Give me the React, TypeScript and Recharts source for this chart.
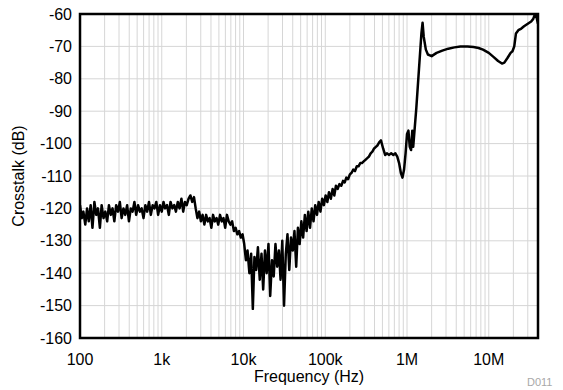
import {
  LineChart,
  Line,
  XAxis,
  YAxis,
  CartesianGrid,
  ReferenceArea,
} from "recharts";

// frequency (Hz) and crosstalk (dB)
const freqHz = [
  100, 105, 110, 116, 122, 128, 135, 142, 150, 158, 166, 175, 184, 194, 204, 215,
  226, 238, 250, 263, 277, 292, 307, 323, 340, 358, 377, 397, 418, 440, 463, 487,
  513, 540, 568, 598, 630, 663, 698, 735, 774, 815, 858, 903, 950, 1000, 1050, 1100,
  1160, 1220, 1280, 1350, 1420, 1490, 1570, 1650, 1740, 1830, 1920, 2020, 2130, 2240,
  2360, 2480,
  2600, 2730, 2870, 3010, 3160, 3320, 3490, 3660, 3850, 4040, 4240, 4450, 4680, 4910,
  5160, 5420, 5690, 5970, 6270, 6590, 6920, 7260, 7630, 8010, 8410, 8830, 9270, 9730,
  10200, 10700,
  11200, 11800, 12400, 13000, 13600, 14300, 15000, 15800, 16600, 17400, 18300, 19200,
  20200, 21200, 22300, 23400, 24600, 25800, 27100, 28400, 29800, 31300, 32900, 34500,
  36300, 38100, 40000, 42000, 44100, 46300, 48600, 51000, 53600, 56300, 59100, 62000,
  65100, 68400, 71800, 75400, 79200, 83100, 87300, 91700, 96300,
  101000, 106000, 111000, 117000, 123000, 129000, 135000, 142000, 149000, 157000,
  165000, 173000, 181000, 190000, 200000, 210000, 220000, 231000, 243000, 255000,
  268000, 281000, 295000, 310000, 326000, 342000, 359000, 377000, 396000, 416000,
  437000, 460000, 480000, 510000, 540000, 570000, 600000, 640000, 680000, 720000,
  760000, 800000, 840000, 880000, 920000, 960000,
  1000000, 1040000, 1080000, 1120000, 1160000, 1190000, 1300000, 1400000, 1500000,
  1550000, 1600000, 1700000, 1800000, 2000000, 2300000, 2700000, 3200000, 3800000,
  4500000, 5500000, 6500000, 7500000, 8500000, 10000000, 11500000, 13000000,
  14500000, 15500000, 17000000, 18500000, 19500000, 20500000, 21500000, 23000000,
  25000000, 27000000, 30000000, 33000000, 35000000, 36500000, 38000000, 40000000,
];

const crosstalkDb = [
  -119, -123, -121, -125, -120, -124, -119, -126, -118, -122, -120, -126, -119, -123, -121, -124,
  -119, -122, -120, -124, -119, -121, -118, -123, -120, -122, -119, -124, -120, -121, -118, -122,
  -119, -121, -120, -123, -119, -121, -118, -122, -119, -120, -118, -122, -119, -121, -118, -120,
  -119, -122, -118, -120, -119, -121, -118, -120, -117, -121, -118, -119, -117, -116,
  -118, -116.5,
  -120, -123, -121, -124, -122, -125, -122, -124, -123, -126, -122, -124, -123, -125,
  -122, -124, -123, -126, -122, -124, -125, -124, -127, -126, -128, -127, -129, -128,
  -131, -136,
  -133, -140, -134, -151, -135, -139, -132, -142, -134, -145, -133, -140,
  -131, -147, -136, -141, -131, -138, -133, -142, -130, -150, -134, -128,
  -139, -129, -133, -127, -138, -126, -131, -124, -129, -122, -127, -121,
  -126, -120, -124, -119, -122, -118, -121, -117, -119,
  -116, -118, -115, -117, -114, -116, -113, -114, -112.5, -113,
  -111.5, -112, -110.5, -111, -109.5, -109, -108, -108.5, -107, -107,
  -106, -106, -105.5, -105, -104.5, -104, -103, -102.5, -101.5, -101,
  -100.5, -99.5, -99, -101.5, -103.5, -103, -103.5, -103, -103.5, -103,
  -104, -106, -109, -110.5, -108, -103,
  -97, -96, -101, -102, -96, -101, -89, -77, -66,
  -62.7, -67, -71, -72.5, -73, -72, -71.3, -70.7, -70.3,
  -70, -70, -70.2, -70.5, -71, -72, -73.3, -74.5,
  -75.3, -75, -73.5, -72, -71.5, -70, -66, -65,
  -64.5, -63.8, -63, -62.3, -61.5, -60.2, -60.5, -63,
];

const xTicks = [
  100, 200, 300, 400, 500, 600, 700, 800, 900,
  1000, 2000, 3000, 4000, 5000, 6000, 7000, 8000, 9000,
  10000, 20000, 30000, 40000, 50000, 60000, 70000, 80000, 90000,
  100000, 200000, 300000, 400000, 500000, 600000, 700000, 800000, 900000,
  1000000, 2000000, 3000000, 4000000, 5000000, 6000000, 7000000, 8000000, 9000000,
  10000000, 20000000, 30000000, 40000000,
];
const xLabels: Record<number, string> = {
  100: "100",
  1000: "1k",
  10000: "10k",
  100000: "100k",
  1000000: "1M",
  10000000: "10M",
};
const yTicks = [-160, -150, -140, -130, -120, -110, -100, -90, -80, -70, -60];

const data = freqHz.map((f, i) => ({ f, db: crosstalkDb[i] }));

const font = "'Liberation Sans', Arial, Helvetica, sans-serif";

export default function App() {
  return (
    <div
      style={{
        position: "relative",
        width: 563,
        height: 390,
        margin: "-8px 0 0 -8px",
        fontFamily: font,
      }}
    >
      <LineChart
        width={563}
        height={390}
        data={data}
        margin={{ top: 14, right: 25, bottom: 0, left: 0 }}
      >
        <CartesianGrid stroke="#d6d6d6" strokeWidth={1} />
        <XAxis
          dataKey="f"
          type="number"
          scale="log"
          domain={[100, 40000000]}
          ticks={xTicks}
          interval={0}
          allowDataOverflow
          axisLine={false}
          tickLine={false}
          tickMargin={10}
          height={52}
          tickFormatter={(v: number) => xLabels[v] ?? ""}
          tick={{ fill: "#000", fontSize: 16, fontFamily: font }}
          label={{
            value: "Frequency (Hz)",
            position: "insideBottom",
            offset: 8,
            fill: "#000",
            fontSize: 16,
            fontFamily: font,
          }}
        />
        <YAxis
          type="number"
          domain={[-160, -60]}
          ticks={yTicks}
          interval={0}
          allowDataOverflow
          axisLine={false}
          tickLine={false}
          width={80}
          tick={{ fill: "#000", fontSize: 16, fontFamily: font }}
          label={{
            value: "Crosstalk (dB)",
            angle: -90,
            position: "insideLeft",
            offset: 18,
            fill: "#000",
            fontSize: 16,
            fontFamily: font,
            style: { textAnchor: "middle" },
          }}
        />
        <Line
          type="linear"
          dataKey="db"
          stroke="#000"
          strokeWidth={2.5}
          strokeLinejoin="round"
          dot={false}
          isAnimationActive={false}
        />
        <ReferenceArea
          x1={100}
          x2={40000000}
          y1={-160}
          y2={-60}
          fill="none"
          stroke="#000"
          strokeWidth={2.5}
          fillOpacity={0}
        />
      </LineChart>
      <div
        style={{
          position: "absolute",
          left: 527,
          top: 376,
          fontSize: 11,
          color: "#a8a8a8",
        }}
      >
        D011
      </div>
    </div>
  );
}
